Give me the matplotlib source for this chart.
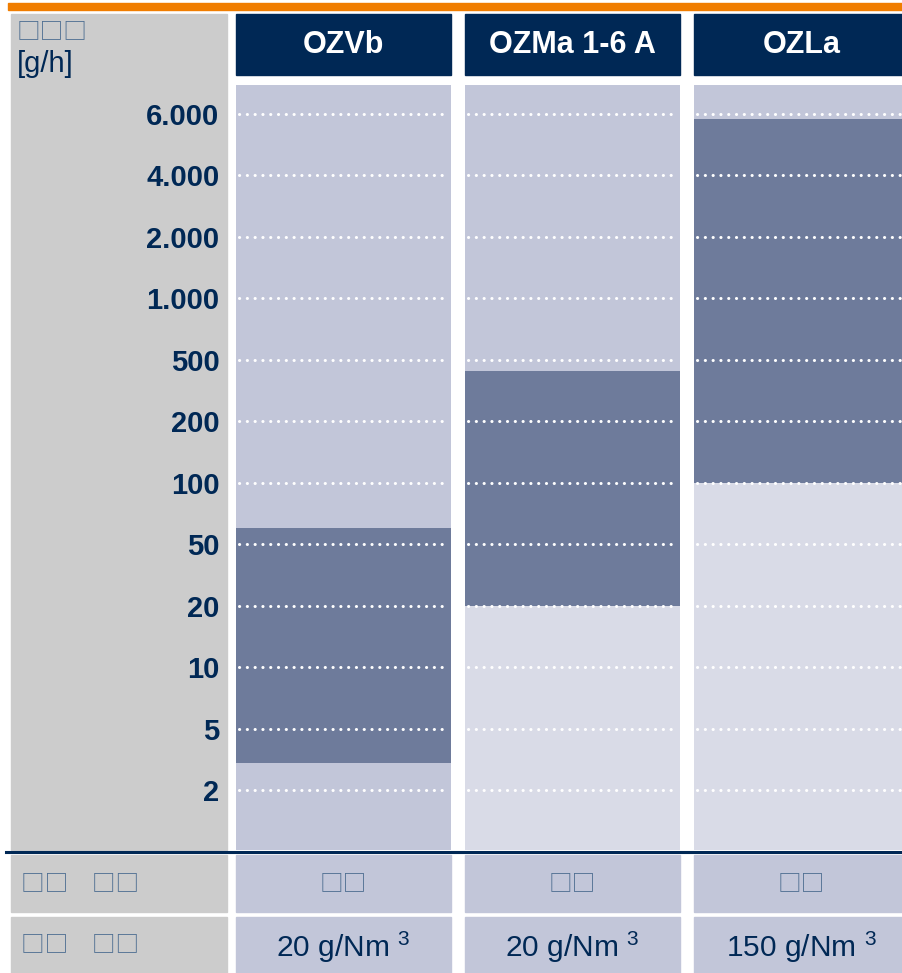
import numpy as np
import matplotlib
matplotlib.use('Agg')
import matplotlib.pyplot as plt
import matplotlib.patches as mpatches
import matplotlib.transforms as mtransforms

plt.rcParams['font.family'] = ['Liberation Sans', 'DejaVu Sans']
plt.rcParams['mathtext.fontset'] = 'custom'
plt.rcParams['mathtext.rm'] = 'Liberation Sans'

# data
tick_values = [2, 5, 10, 20, 50, 100, 200, 500, 1000, 2000, 4000, 6000]
tick_labels = ['2', '5', '10', '20', '50', '100', '200', '500',
               '1.000', '2.000', '4.000', '6.000']
models = ['OZVb', 'OZMa 1-6 A', 'OZLa']
range_low = [3, 20, 100]
range_high = [60, 420, 5800]
row1_values = ['□□', '□□', '□□']
row2_values = ['20 g/Nm $^3$', '20 g/Nm $^3$', '150 g/Nm $^3$']
unit_name = '□□□'
unit = '[g/h]'
row_labels = ['□□\u3000□□', '□□\u3000□□']

NAVY = '#002855'
BOXC = '#4f6f92'
ORANGE = '#f07d00'
LIGHT = '#c2c6d9'
LIGHTER = '#d9dbe7'
DARK = '#6e7b9b'
GRAY = '#cccccc'
lower_colors = [LIGHT, LIGHTER, LIGHTER]
BOXFONT = ['Noto Sans CJK SC', 'DejaVu Sans']

W, H = 903, 973


def fx(px):
    return px / W


def fy(py):
    return 1 - py / H


def level(v):
    # position on the evenly spaced (ordinal) scale
    return np.interp(np.log(v), np.log(tick_values), np.arange(len(tick_values)))


fig = plt.figure(figsize=(W / 100, H / 100), dpi=100)

# frame decorations
fig.patches.append(mpatches.Rectangle((fx(8), fy(10)), fx(903) - fx(8), fy(3) - fy(10),
                                      transform=fig.transFigure, color=ORANGE, zorder=-2))
fig.patches.append(mpatches.Rectangle((fx(11), fy(850)), fx(227) - fx(11), fy(14) - fy(850),
                                      transform=fig.transFigure, color=GRAY, zorder=-2))
fig.text(fx(17), fy(32), unit_name, ha='left', va='center', fontsize=17,
         color=BOXC, family=BOXFONT)
fig.text(fx(17), fy(64), unit, ha='left', va='center', fontsize=21, color=NAVY)

ax = fig.add_axes([fx(236), fy(850), fx(903) - fx(236), fy(85) - fy(850)])
ax.set_facecolor('none')
pitch = 229.0
colw = 215.0 / pitch
ymin, ymax = -0.976, 11.47
ax.set_xlim(0, (903 - 236) / pitch)
ax.set_ylim(ymin, ymax)

for i, m in enumerate(models):
    lo, hi = level(range_low[i]), level(range_high[i])
    ax.bar(i, ymax - ymin, bottom=ymin, width=colw, align='edge', color=LIGHT, zorder=1)
    ax.bar(i, lo - ymin, bottom=ymin, width=colw, align='edge', color=lower_colors[i], zorder=1)
    ax.bar(i, hi - lo, bottom=lo, width=colw, align='edge', color=DARK, zorder=2)
    for k in range(len(tick_values)):
        ax.plot([i + 3 / pitch, i + colw - 3 / pitch], [k, k], color='white', lw=2.2,
                linestyle=(0, (0.05, 2.5)), dash_capstyle='round', zorder=3)

ax.set_yticks(range(len(tick_values)))
ax.set_yticklabels(tick_labels, fontsize=21, fontweight='bold', color=NAVY)
ax.tick_params(axis='y', length=0, pad=12)
ax.set_xticks([])
for s in ax.spines.values():
    s.set_visible(False)

# header boxes and bottom table rows
trans = mtransforms.blended_transform_factory(ax.transData, fig.transFigure)
for i, m in enumerate(models):
    ax.add_patch(mpatches.Rectangle((i, fy(75)), colw, fy(14) - fy(75), transform=trans,
                                    color=NAVY, clip_on=False, zorder=1))
    ax.text(i + colw / 2, fy(45), m, transform=trans, ha='center', va='center',
            fontsize=22, fontweight='bold', color='white')
    ax.add_patch(mpatches.Rectangle((i, fy(912)), colw, fy(855) - fy(912), transform=trans,
                                    color=LIGHT, clip_on=False, zorder=1))
    ax.add_patch(mpatches.Rectangle((i, fy(973)), colw, fy(917) - fy(973), transform=trans,
                                    color=LIGHT, clip_on=False, zorder=1))
    ax.text(i + colw / 2, fy(884), row1_values[i], transform=trans, ha='center',
            va='center', fontsize=17, color=BOXC, clip_on=False, family=BOXFONT)
    ax.text(i + colw / 2, fy(947), row2_values[i], transform=trans, ha='center',
            va='center', fontsize=21.5, color=NAVY, clip_on=False)

for j, (y0, y1) in enumerate([(855, 912), (917, 973)]):
    fig.patches.append(mpatches.Rectangle((fx(11), fy(y1)), fx(227) - fx(11), fy(y0) - fy(y1),
                                          transform=fig.transFigure, color=GRAY, zorder=-2))
    fig.text(fx(21), fy((y0 + y1) / 2), row_labels[j], ha='left', va='center',
             fontsize=17, color=BOXC, family=BOXFONT)

fig.add_artist(plt.Line2D([fx(6), fx(903)], [fy(852), fy(852)], transform=fig.transFigure,
                          color=NAVY, lw=2.2, zorder=5))

fig.savefig('out.png', dpi=100)
